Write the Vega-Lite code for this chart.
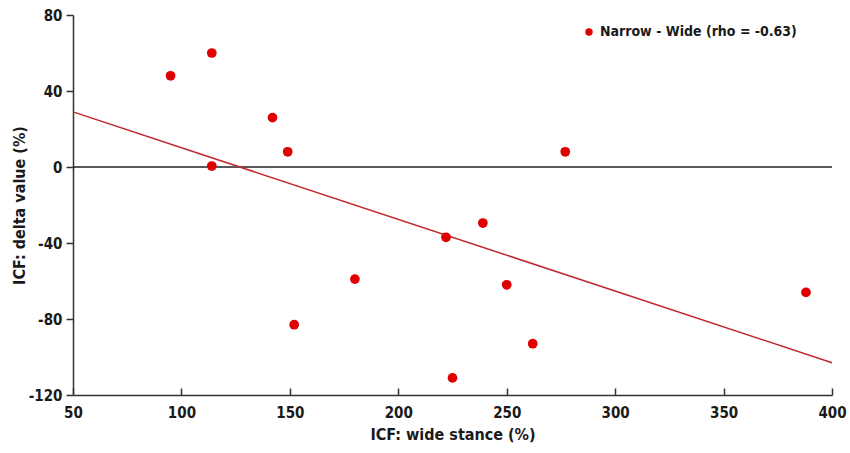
{
  "$schema": "https://vega.github.io/schema/vega-lite/v6.json",
  "description": "ICF delta value vs wide stance",
  "autosize": {"type": "none"},
  "padding": {"left": 73, "top": 15, "right": 18, "bottom": 58},
  "width": 759,
  "height": 380,
  "background": "white",
  "config": {
    "view": {"stroke": null},
    "font": "DejaVu Sans Condensed, Liberation Sans",
    "axis": {
      "grid": false,
      "domainColor": "#333333",
      "domainWidth": 1.5,
      "tickColor": "#333333",
      "tickWidth": 1.5,
      "labelColor": "#1a1a1a",
      "titleColor": "#1a1a1a",
      "labelFont": "DejaVu Sans Condensed, Liberation Sans",
      "titleFont": "DejaVu Sans Condensed, Liberation Sans",
      "labelFontSize": 15,
      "titleFontSize": 16,
      "labelFontWeight": "bold",
      "titleFontWeight": "bold",
      "labelFlush": false,
      "labelExpr": "'' + datum.value"
    }
  },
  "datasets": {
    "points": [
      {"wide": 95, "delta": 48, "series": "Narrow - Wide (rho = -0.63)"},
      {"wide": 114, "delta": 60, "series": "Narrow - Wide (rho = -0.63)"},
      {"wide": 114, "delta": 0.5, "series": "Narrow - Wide (rho = -0.63)"},
      {"wide": 142, "delta": 26, "series": "Narrow - Wide (rho = -0.63)"},
      {"wide": 149, "delta": 8, "series": "Narrow - Wide (rho = -0.63)"},
      {"wide": 152, "delta": -83, "series": "Narrow - Wide (rho = -0.63)"},
      {"wide": 180, "delta": -59, "series": "Narrow - Wide (rho = -0.63)"},
      {"wide": 222, "delta": -37, "series": "Narrow - Wide (rho = -0.63)"},
      {"wide": 225, "delta": -111, "series": "Narrow - Wide (rho = -0.63)"},
      {"wide": 239, "delta": -29.5, "series": "Narrow - Wide (rho = -0.63)"},
      {"wide": 250, "delta": -62, "series": "Narrow - Wide (rho = -0.63)"},
      {"wide": 262, "delta": -93, "series": "Narrow - Wide (rho = -0.63)"},
      {"wide": 277, "delta": 8, "series": "Narrow - Wide (rho = -0.63)"},
      {"wide": 388, "delta": -66, "series": "Narrow - Wide (rho = -0.63)"}
    ],
    "fit": [
      {"wide": 50, "delta": 29},
      {"wide": 400, "delta": -103}
    ],
    "zero": [
      {"delta": 0}
    ]
  },
  "layer": [
    {
      "data": {"name": "zero"},
      "mark": {"type": "rule", "color": "#222222", "strokeWidth": 1.5},
      "encoding": {
        "y": {"field": "delta", "type": "quantitative"}
      }
    },
    {
      "data": {"name": "fit"},
      "mark": {"type": "line", "color": "#c0272d", "strokeWidth": 1.5},
      "encoding": {
        "x": {"field": "wide", "type": "quantitative"},
        "y": {"field": "delta", "type": "quantitative"}
      }
    },
    {
      "data": {"name": "points"},
      "mark": {"type": "circle", "size": 95, "opacity": 1},
      "encoding": {
        "x": {
          "field": "wide",
          "type": "quantitative",
          "title": "ICF: wide stance (%)",
          "scale": {"domain": [50, 400], "nice": false, "zero": false},
          "axis": {
            "values": [50, 100, 150, 200, 250, 300, 350, 400],
            "tickSize": -7,
            "labelPadding": 17,
            "titlePadding": 6
          }
        },
        "y": {
          "field": "delta",
          "type": "quantitative",
          "title": "ICF: delta value (%)",
          "scale": {"domain": [-120, 80], "nice": false, "zero": false},
          "axis": {
            "values": [-120, -80, -40, 0, 40, 80],
            "tickSize": 7,
            "labelPadding": 4,
            "titleX": -46,
            "titleY": 190
          }
        },
        "color": {
          "field": "series",
          "type": "nominal",
          "scale": {"range": ["#e00000"]},
          "legend": {
            "orient": "none",
            "legendX": 509,
            "legendY": 10,
            "title": null,
            "symbolSize": 55,
            "symbolType": "circle",
            "labelLimit": 0,
            "labelFontSize": 14,
            "labelFontWeight": "bold",
            "labelColor": "#1a1a1a",
            "labelFont": "DejaVu Sans Condensed, Liberation Sans"
          }
        }
      }
    }
  ]
}
